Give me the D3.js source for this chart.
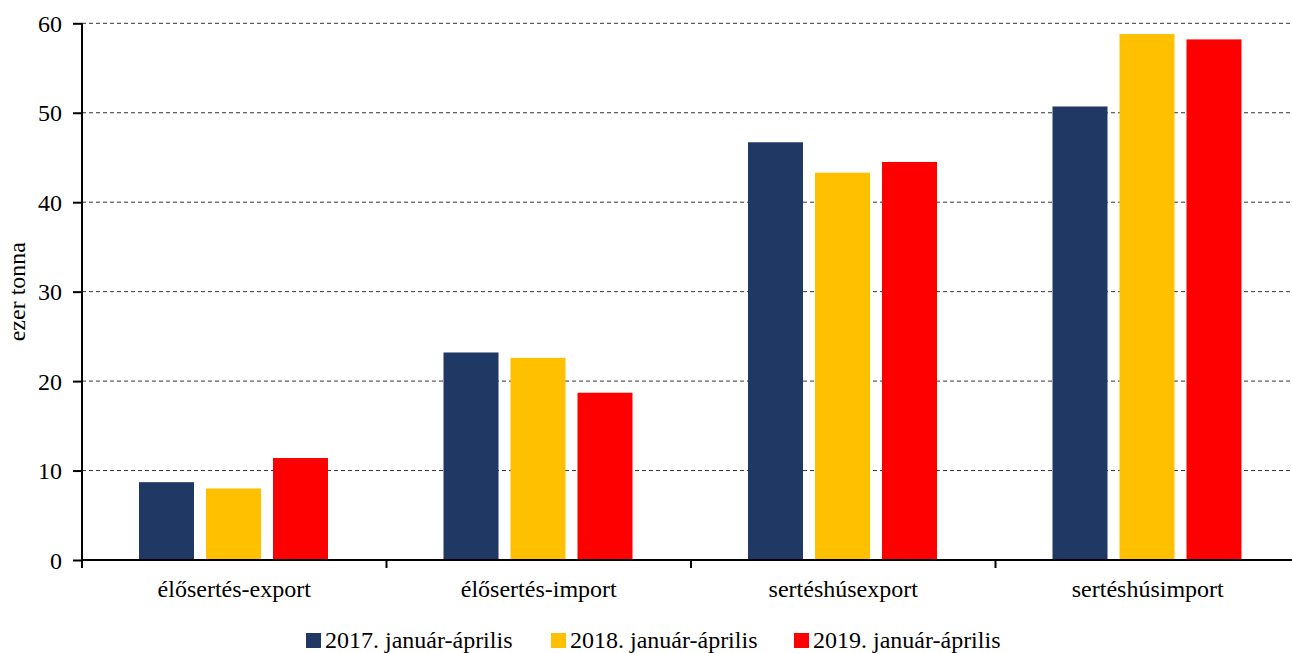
<!DOCTYPE html>
<html><head><meta charset="utf-8">
<script src="https://cdn.jsdelivr.net/npm/d3@7"></script>
<style>body{margin:0;background:#fff;overflow:hidden}svg{display:block}</style>
</head><body><svg id="c" width="1292" height="653"></svg>
<script>
const categories = ["élősertés-export","élősertés-import","sertéshúsexport","sertéshúsimport"];
const seriesNames = ["2017. január-április","2018. január-április","2019. január-április"];
const s2017 = [8.7, 23.2, 46.7, 50.7];
const s2018 = [8.0, 22.6, 43.3, 58.8];
const s2019 = [11.4, 18.7, 44.5, 58.2];
const colors = ["#203864","#FFC000","#FF0000"];
const yTicks = [0,10,20,30,40,50,60];

const FONT = '"Liberation Serif","Times New Roman",serif';
const series = [s2017, s2018, s2019];
const svg = d3.select("#c");
const L = 82, R = 1300, T = 23.3, B = 560;
const x = d3.scaleBand().domain(categories).range([L, R]).padding(0);
const xi = d3.scaleBand().domain(seriesNames).range([57, 246]).paddingInner(12/67).paddingOuter(0);
const y = d3.scaleLinear().domain([0, 60]).range([B, T]);

// grid
svg.append("g").selectAll("line").data(yTicks.filter(d=>d>0)).join("line")
  .attr("x1", L).attr("x2", R).attr("y1", d=>y(d)).attr("y2", d=>y(d))
  .attr("stroke", "#333").attr("stroke-width", 1).attr("stroke-dasharray", "4,3");

// bars
series.forEach((vals, si) => {
  svg.append("g").selectAll("rect").data(categories).join("rect")
    .attr("x", c => x(c) + xi(seriesNames[si]))
    .attr("width", xi.bandwidth())
    .attr("y", (c,i) => y(vals[i]))
    .attr("height", (c,i) => B - y(vals[i]))
    .attr("fill", colors[si]);
});

// y axis
const ya = svg.append("g").attr("transform", `translate(${L},0)`)
  .call(d3.axisLeft(y).tickValues(yTicks).tickSize(9).tickPadding(11).tickFormat(d3.format("d")));
ya.select(".domain").attr("stroke", "#000").attr("stroke-width", 2).attr("d", `M0,${B}V${T}`);
ya.selectAll(".tick line").attr("stroke", "#000").attr("stroke-width", 2);
ya.selectAll(".tick text").style("font-size", "24px").style("font-family", FONT).attr("fill","#000").attr("dy","0.34em");

// x axis
const xa = svg.append("g").attr("transform", `translate(0,${B})`)
  .call(d3.axisBottom(x).tickSize(0).tickPadding(0));
xa.select(".domain").attr("stroke", "#000").attr("stroke-width", 2).attr("d", `M${L},0H${R}`);
xa.selectAll(".tick text").style("font-size", "24px").style("font-family", FONT).attr("fill","#000").attr("dy", null).attr("y", 37);
// category boundary ticks
svg.append("g").selectAll("line").data(categories).join("line")
  .attr("x1", c => x(c)).attr("x2", c => x(c))
  .attr("y1", B).attr("y2", B + 8).attr("stroke", "#000").attr("stroke-width", 2);

// y title
svg.append("text").attr("transform", `translate(25,${(T+B)/2}) rotate(-90)`)
  .attr("text-anchor", "middle").style("font-size", "24px").style("font-family", FONT).text("ezer tonna");

// legend
const legX = [306, 551, 794];
const lg = svg.append("g");
seriesNames.forEach((n, i) => {
  lg.append("rect").attr("x", legX[i]).attr("y", 633).attr("width", 15).attr("height", 15).attr("fill", colors[i]);
  lg.append("text").attr("x", legX[i] + 19).attr("y", 648).style("font-size", "24px").style("font-family", FONT).text(n);
});
</script></body></html>
